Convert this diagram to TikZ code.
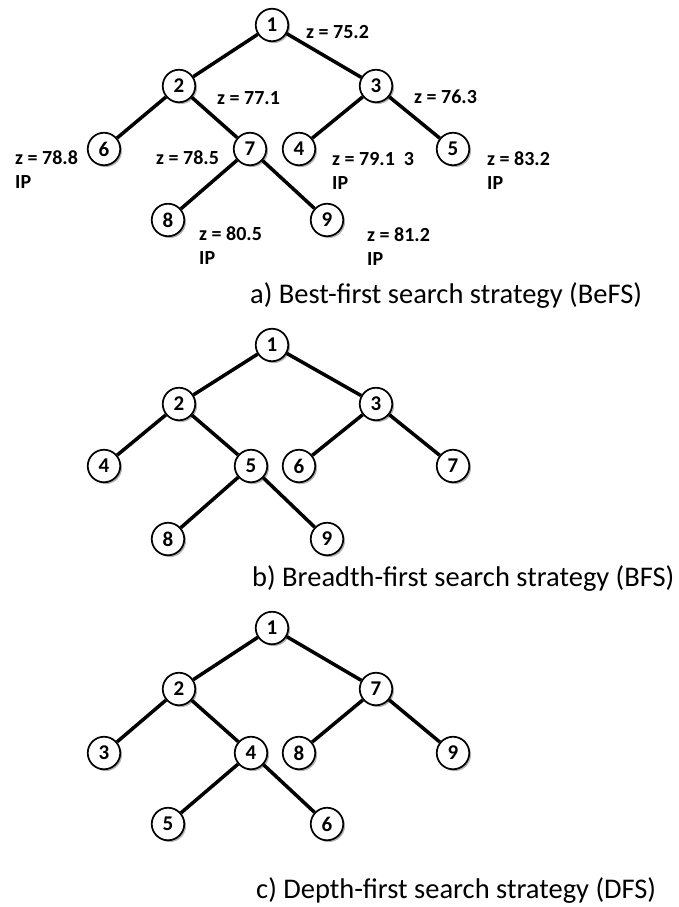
\documentclass[tikz,border=0pt]{standalone}
\usepackage{fontspec}
\setmainfont{Carlito}
\usetikzlibrary{shadows}
\tikzset{
  tn/.style={circle, draw, line width=1.7pt, fill=white, minimum size=32.5pt, inner sep=0pt,
    font=\fontsize{21}{21}\selectfont\bfseries,
    drop shadow={shadow xshift=1.8pt, shadow yshift=-1.8pt, fill=black, opacity=0.3}},
  ed/.style={line width=3.5pt},
  zl/.style={anchor=base west, inner sep=0pt, align=left, font=\fontsize{20}{24}\selectfont\bfseries},
  captxt/.style={anchor=base west, inner sep=0pt, font=\fontsize{28.5}{29}\selectfont},
}
\begin{document}
\begin{tikzpicture}[x=1pt,y=-1pt]
\useasboundingbox (0,0) rectangle (678,907);
% ---------- tree a ----------
\node[tn] (a1) at (272,25) {1};
\node[tn] (a2) at (179,86) {2};
\node[tn] (a3) at (376,86) {3};
\node[tn] (a6) at (104,149) {6};
\node[tn] (a7) at (250,149) {7};
\node[tn] (a4) at (299,149) {4};
\node[tn] (a5) at (453,149) {5};
\node[tn] (a8) at (168,220) {8};
\node[tn] (a9) at (327,220) {9};
\draw[ed] (a1) -- (a2);
\draw[ed] (a1) -- (a3);
\draw[ed] (a2) -- (a6);
\draw[ed] (a2) -- (a7);
\draw[ed] (a3) -- (a4);
\draw[ed] (a3) -- (a5);
\draw[ed] (a7) -- (a8);
\draw[ed] (a7) -- (a9);
\node[zl] (za1) at (306,39) {z = 75.2};
\node[zl] (za2) at (217,104) {z = 77.1};
\node[zl] (za3) at (414,103) {z = 76.3};
\node[zl] (za6) at (15,188) {z = 78.8\\IP};
\node[zl] (za7) at (156,164) {z = 78.5};
\node[zl] (za4) at (332,189) {z = 79.1\ \ 3\\IP};
\node[zl] (za5) at (487,189) {z = 83.2\\IP};
\node[zl] (za8) at (199,264) {z = 80.5\\IP};
\node[zl] (za9) at (367,265) {z = 81.2\\IP};
\node[captxt] (capa) at (250,303) {a) Best-first search strategy (BeFS)};
% ---------- tree b ----------
\node[tn] (b1) at (272,345) {1};
\node[tn] (b2) at (179,404) {2};
\node[tn] (b3) at (376,404) {3};
\node[tn] (b4) at (104,466) {4};
\node[tn] (b5) at (251,466) {5};
\node[tn] (b6) at (299,466) {6};
\node[tn] (b7) at (453,466) {7};
\node[tn] (b8) at (168,539) {8};
\node[tn] (b9) at (327,539) {9};
\draw[ed] (b1) -- (b2);
\draw[ed] (b1) -- (b3);
\draw[ed] (b2) -- (b4);
\draw[ed] (b2) -- (b5);
\draw[ed] (b3) -- (b6);
\draw[ed] (b3) -- (b7);
\draw[ed] (b5) -- (b8);
\draw[ed] (b5) -- (b9);
\node[captxt] (capb) at (252,586) {b) Breadth-first search strategy (BFS)};
% ---------- tree c ----------
\node[tn] (c1) at (272,628) {1};
\node[tn] (c2) at (179,689) {2};
\node[tn] (c7) at (376,689) {7};
\node[tn] (c3) at (104,753) {3};
\node[tn] (c4) at (251,753) {4};
\node[tn] (c8) at (299,753) {8};
\node[tn] (c9) at (453,753) {9};
\node[tn] (c5) at (168,824) {5};
\node[tn] (c6) at (327,824) {6};
\draw[ed] (c1) -- (c2);
\draw[ed] (c1) -- (c7);
\draw[ed] (c2) -- (c3);
\draw[ed] (c2) -- (c4);
\draw[ed] (c7) -- (c8);
\draw[ed] (c7) -- (c9);
\draw[ed] (c4) -- (c5);
\draw[ed] (c4) -- (c6);
\node[captxt] (capc) at (256,898) {c) Depth-first search strategy (DFS)};
\end{tikzpicture}
\end{document}
